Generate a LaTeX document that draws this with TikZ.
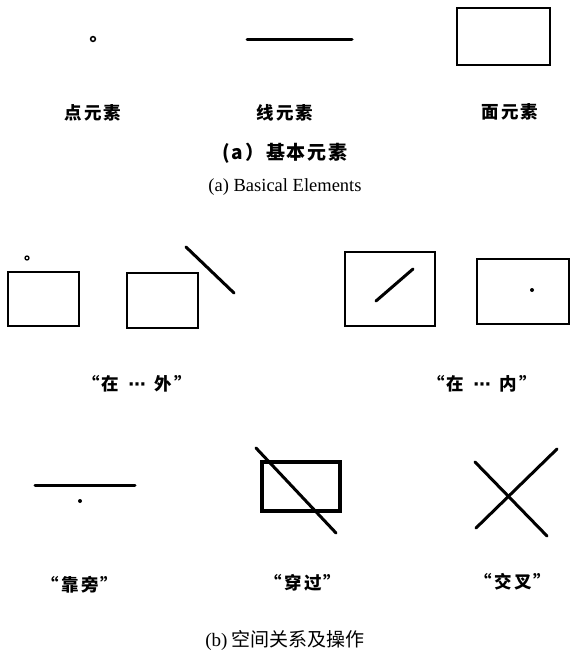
\documentclass[tikz,border=0pt]{standalone}
\usepackage{fontspec}
\newfontfamily\cjk{Noto Sans CJK SC}
\newfontfamily\cjkls{Noto Sans CJK SC}[LetterSpace=12]
\newfontfamily\cjkcap{Noto Sans CJK SC}[LetterSpace=10]
\newfontfamily\symf{DejaVu Sans}
\setmainfont{Liberation Serif}
\begin{document}
\begin{tikzpicture}[x=1pt,y=-1pt,
  thin shape/.style={line width=1.9pt},
  thick shape/.style={line width=3pt,line cap=round},
  heavy shape/.style={line width=4pt},
  lbl/.style={font=\cjkls\bfseries\fontsize{17.5}{20}\selectfont, inner sep=0pt},
  captext/.style={font=\cjk\fontsize{19}{22}\selectfont, inner sep=0pt}]
\useasboundingbox (0,0) rectangle (570,663);
% row 1
\draw[line width=1.5pt] (93,39) circle (2.4);
\draw[thick shape] (247,40) -- (352,40);
\draw[thin shape] (457,8) rectangle (550,65);
\node[lbl] (l1) at (93,113) {点元素};
\node[lbl] (l2) at (285,113) {线元素};
\node[lbl] (l3) at (510,112) {面元素};
\node[font=\cjkcap\bfseries\fontsize{19}{22}\selectfont, inner sep=0pt] (ca) at (285,153) {(a）基本元素};
\node[font=\fontsize{18.5}{22}\selectfont, inner sep=0pt] (cae) at (285,187) {(a) Basical Elements};
% row 2
\draw[line width=1.3pt] (27,258) circle (2);
\draw[thin shape] (8,272) rectangle (79,326);
\draw[thin shape] (127,273) rectangle (198,328);
\draw[thick shape] (186,247) -- (234,293);
\draw[thin shape] (345,252) rectangle (435,326);
\draw[thick shape] (376,301) -- (413,269);
\draw[thin shape] (477,259) rectangle (569,324);
\fill (532,290) circle (2);
\node[lbl] (l4) at (137,384) {“在\hspace{9pt}{\symf\bfseries ⋯}\hspace{9pt}外”};
\node[lbl] (l5) at (482,384) {“在\hspace{9pt}{\symf\bfseries ⋯}\hspace{9pt}内”};
% row 3
\draw[thick shape] (35,485) -- (135,485);
\fill (80,501) circle (2);
\draw[heavy shape] (262,462) rectangle (340,511);
\draw[thick shape] (256,448) -- (336,533);
\draw[thick shape] (475,462) -- (547,536);
\draw[thick shape] (476,528) -- (557,449);
\node[lbl] (l6) at (80,585) {“靠旁”};
\node[lbl] (l7) at (303,583) {“穿过”};
\node[lbl] (l8) at (513,582) {“交叉”};
\node[captext] (cb) at (285,640) {{\rmfamily(b)} 空间关系及操作};
\end{tikzpicture}
\end{document}
